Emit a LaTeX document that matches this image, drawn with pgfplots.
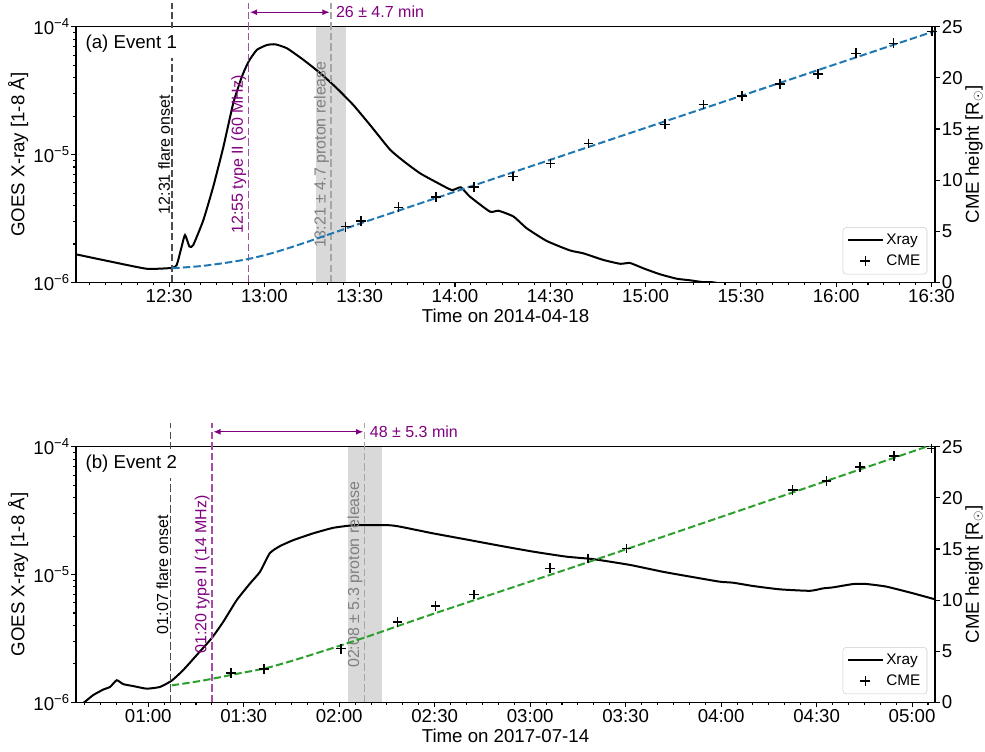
\documentclass[border=0pt]{standalone}
\usepackage{fontspec}
\setmainfont{Liberation Sans}
\usepackage{pgfplots}
\usepackage{pgfplotstable}
\pgfplotsset{compat=1.18}
\usetikzlibrary{arrows.meta,calc}

\definecolor{fitblue}{HTML}{1F77B4}
\definecolor{fitgreen}{HTML}{2CA02C}
\definecolor{mplpurple}{HTML}{800080}
\definecolor{purpleline}{HTML}{A64DA6}
\definecolor{onsetline}{HTML}{4D4D4D}
\definecolor{protonline}{HTML}{A6A6A6}
\definecolor{protontext}{HTML}{808080}
\definecolor{bandgray}{HTML}{D9D9D9}

\newcommand{\fs}[1]{\fontsize{#1}{1.2\dimexpr#1pt\relax}\selectfont}

% ---- event 1 (minutes after 12:00 on 2014-04-18) ----
\pgfplotstableread{
t flux
0.7 1.66e-6
11.4 1.46e-6
23.0 1.28e-6
30.9 1.30e-6
32.4 1.37e-6
33.7 1.80e-6
35.0 2.35e-6
36.4 1.91e-6
37.6 1.96e-6
40.8 3.08e-6
43.9 5.61e-6
47.1 1.15e-5
50.2 2.52e-5
52.9 4.06e-5
55.0 5.32e-5
57.6 6.58e-5
60.8 7.19e-5
63.4 7.28e-5
67.1 6.78e-5
72.3 5.50e-5
77.6 4.33e-5
82.8 3.30e-5
88.0 2.44e-5
93.3 1.70e-5
99.6 1.09e-5
104.3 8.7e-6
109.0 7.14e-6
114.0 6.1e-6
119.0 5.28e-6
121.8 5.55e-6
124.7 4.69e-6
131.0 3.58e-6
133.7 3.64e-6
138.4 3.28e-6
142.6 2.65e-6
148.9 2.11e-6
156.2 1.78e-6
160.4 1.69e-6
166.7 1.50e-6
172.0 1.40e-6
175.1 1.42e-6
179.3 1.29e-6
184.5 1.16e-6
189.8 1.07e-6
194.0 1.04e-6
198.2 1.005e-6
202.2 0.995e-6
216.0 0.79e-6
}\xrayA

\pgfplotstableread{
t h
85.6 5.45
90.4 6.01
102.2 7.35
114.0 8.36
126.0 9.33
138.2 10.34
150.1 11.62
162.0 13.60
186.1 15.46
198.2 17.41
210.3 18.23
222.3 19.40
234.2 20.38
246.2 22.40
258.0 23.38
270.1 24.51
}\cmeA

\pgfplotstableread{
t h
31 1.39
40 1.60
48 1.93
55 2.30
62 2.83
70 3.60
78 4.45
85 5.20
90 5.75
100 6.79
130 9.91
160 13.03
200 17.19
240 21.35
271 24.57
}\fitA

% ---- event 2 (minutes after 00:00 on 2017-07-14) ----
\pgfplotstableread{
t flux
37.3 0.90e-6
40.1 1.01e-6
42.7 1.14e-6
45.9 1.26e-6
48.0 1.32e-6
50.1 1.49e-6
52.1 1.39e-6
55.3 1.34e-6
59.5 1.28e-6
63.7 1.32e-6
67.4 1.48e-6
71.0 1.79e-6
75.2 2.34e-6
79.9 3.17e-6
83.6 4.28e-6
87.8 6.31e-6
92.0 8.53e-6
95.1 1.05e-5
98.2 1.47e-5
101.4 1.67e-5
105.6 1.86e-5
111.8 2.10e-5
118.1 2.32e-5
124.4 2.43e-5
130.7 2.44e-5
135.9 2.43e-5
139.1 2.37e-5
149.5 2.10e-5
160.0 1.88e-5
170.5 1.68e-5
181.0 1.51e-5
191.4 1.38e-5
199.8 1.32e-5
211.3 1.19e-5
221.8 1.05e-5
232.3 9.44e-6
239.6 8.79e-6
243.8 8.63e-6
250.1 8.13e-6
258.5 7.66e-6
267.9 7.46e-6
272.1 7.80e-6
275.2 7.94e-6
281.5 8.43e-6
285.7 8.43e-6
292.0 8.04e-6
300.3 7.13e-6
307.2 6.40e-6
}\xrayB

\pgfplotstableread{
t h
86.0 2.87
96.4 3.28
120.5 5.24
138.3 7.88
150.3 9.42
162.3 10.56
186.2 13.11
198.2 14.08
210.3 15.06
262.5 20.77
273.1 21.64
283.6 23.04
294.3 24.09
306.1 24.84
}\cmeB

\pgfplotstableread{
t h
67.4 1.66
75 2.02
80.4 2.32
88 2.80
96.4 3.30
104 3.95
112 4.72
120.5 5.57
130 6.55
150 8.70
200 13.90
250 19.20
304.5 25.00
307.2 25.29
}\fitB

\tikzset{
  vline/.style={line width=1.2pt, dash pattern=on 5.5pt off 2.4pt},
  rotlab/.style={rotate=90, anchor=south, font=\fs{12}, inner sep=1.5pt},
  spanarrow/.style={mplpurple, line width=1pt,
    {Latex[length=5.5pt,width=4.5pt]}-{Latex[length=5.5pt,width=4.5pt]},
    shorten <=1pt, shorten >=1pt},
}

\pgfplotsset{
  every axis/.append style={
    scale only axis, width=644.25pt, anchor=south west,
    tick align=outside,
    major tick length=3.5pt, minor tick length=2pt,
    every tick/.append style={black, line width=0.8pt},
    axis line style={line width=0.8pt},
    tick label style={font=\fs{14}},
    label style={font=\fs{14}},
  },
}

\begin{document}
\begin{tikzpicture}
\useasboundingbox (0,0) rectangle (738.75pt,563.25pt);

% ================= panel (a) =================
\begin{axis}[at={(57pt,351.4pt)}, height=191.85pt,
  xmin=0.7, xmax=271.1,
  ymode=log, ymin=1e-6, ymax=1e-4,
  ytick={1e-6,1e-5,1e-4},
  yticklabels={10\textsuperscript{−6},10\textsuperscript{−5},10\textsuperscript{−4}},
  minor ytick={2e-6,3e-6,4e-6,5e-6,6e-6,7e-6,8e-6,9e-6,2e-5,3e-5,4e-5,5e-5,6e-5,7e-5,8e-5,9e-5},
  xtick pos=left, ytick pos=left,
  xticklabel style={inner sep=0pt, yshift=-1.6pt},
  yticklabel style={inner sep=0pt, xshift=-1pt},
  ylabel={GOES X-ray [1-8 Å]},
  ylabel style={at={(axis description cs:-0.0672,0.5)}, rotate=0, anchor=center},
  xlabel style={at={(axis description cs:0.5,-0.1303)}, anchor=center},
  xtick={30,60,...,270},
  xticklabels={12:30,13:00,13:30,14:00,14:30,15:00,15:30,16:00,16:30},
  minor xtick={5,10,...,270},
  xlabel={Time on 2014-04-18}]
  \fill[bandgray] (axis cs:76.3,1e-6) rectangle (axis cs:85.7,1e-4);
  \addplot[black, line width=1.5pt, smooth, tension=0.3] table[x=t,y=flux] {\xrayA};
  \coordinate (aF) at (axis cs:31,1e-6);
  \coordinate (aT) at (axis cs:55,1e-6);
  \coordinate (aP) at (axis cs:81,1e-6);
  \coordinate (aTop) at (rel axis cs:0,1);
  \coordinate (aMid) at (rel axis cs:0,0.5);
\end{axis}

\draw[vline, onsetline] (aF) -- ($(aF |- aTop)+(0,17.5pt)$);
\draw[vline, purpleline] (aT) -- ($(aT |- aTop)+(0,17.5pt)$);
\draw[vline, protonline] (aP) -- ($(aP |- aTop)+(0,17.5pt)$);
\node[rotlab] at (aF |- aMid) {12:31 flare onset};
\node[rotlab, text=mplpurple] at (aT |- aMid) {12:55 type II (60 MHz)};
\node[rotlab, text=protontext] at (aP |- aMid) {13:21 ± 4.7 proton release};
\draw[spanarrow] ($(aT |- aTop)+(0,10.8pt)$) -- ($(aP |- aTop)+(0,10.8pt)$);
\node[anchor=west, inner sep=0pt, font=\fs{12}, text=mplpurple] at ($(aP |- aTop)+(3.5pt,10.8pt)$) {26 ± 4.7 min};
\node[anchor=west, fill=white, inner sep=4.5pt, font=\fs{14}] at ($(aTop)+(2.5pt,-12.4pt)$) {(a) Event 1};

\begin{axis}[at={(57pt,351.4pt)}, height=191.85pt,
  xmin=0.7, xmax=271.1,
  ymin=0, ymax=25,
  axis x line=none, axis y line*=right,
  ytick={0,5,10,15,20,25}, yticklabels={0,5,10,15,20,25},
  yticklabel style={inner sep=0pt, xshift=1.5pt},
  ylabel={CME height [R\textsubscript{$\odot$}]},
  ylabel style={at={(axis description cs:1.0455,0.5)}, rotate=0, anchor=center},
  legend style={at={(1,0)}, anchor=south east, xshift=-5.8pt, yshift=6.1pt,
    font=\fs{11.5}, draw=black!20, rounded corners=2.5pt, fill=white,
    inner sep=3pt, row sep=2pt},
  legend cell align=left,
  legend image code/.code={\draw[mark repeat=2,mark phase=2,#1]
    plot coordinates {(0pt,0pt) (13pt,0pt) (26pt,0pt)};}]
  \addlegendimage{black, line width=1.5pt}
  \addlegendentry{Xray}
  \addplot[fitblue, line width=1.5pt, dash pattern=on 5.55pt off 2.4pt, smooth, forget plot] table[x=t,y=h] {\fitA};
  \addplot[only marks, mark=+, mark size=3.6pt, mark options={black, line width=1.1pt}] table[x=t,y=h] {\cmeA};
  \addlegendentry{CME}
\end{axis}

% ================= panel (b) =================
\begin{axis}[at={(57pt,36.5pt)}, height=191.7pt,
  xmin=37.3, xmax=307.2,
  ymode=log, ymin=1e-6, ymax=1e-4,
  ytick={1e-6,1e-5,1e-4},
  yticklabels={10\textsuperscript{−6},10\textsuperscript{−5},10\textsuperscript{−4}},
  minor ytick={2e-6,3e-6,4e-6,5e-6,6e-6,7e-6,8e-6,9e-6,2e-5,3e-5,4e-5,5e-5,6e-5,7e-5,8e-5,9e-5},
  xtick pos=left, ytick pos=left,
  xticklabel style={inner sep=0pt, yshift=-1.6pt},
  yticklabel style={inner sep=0pt, xshift=-1pt},
  ylabel={GOES X-ray [1-8 Å]},
  ylabel style={at={(axis description cs:-0.0672,0.5)}, rotate=0, anchor=center},
  xlabel style={at={(axis description cs:0.5,-0.1303)}, anchor=center},
  xtick={60,90,...,300},
  xticklabels={01:00,01:30,02:00,02:30,03:00,03:30,04:00,04:30,05:00},
  minor xtick={40,45,...,305},
  xlabel={Time on 2017-07-14}]
  \fill[bandgray] (axis cs:122.7,1e-6) rectangle (axis cs:133.3,1e-4);
  \addplot[black, line width=1.5pt, smooth, tension=0.3] table[x=t,y=flux] {\xrayB};
  \coordinate (bF) at (axis cs:67,1e-6);
  \coordinate (bT) at (axis cs:80,1e-6);
  \coordinate (bP) at (axis cs:128,1e-6);
  \coordinate (bTop) at (rel axis cs:0,1);
  \coordinate (bMid) at (rel axis cs:0,0.5);
\end{axis}

\draw[vline, onsetline] (bF) -- ($(bF |- bTop)+(0,17.5pt)$);
\draw[vline, purpleline] (bT) -- ($(bT |- bTop)+(0,17.5pt)$);
\draw[vline, protonline] (bP) -- ($(bP |- bTop)+(0,17.5pt)$);
\node[rotlab] at (bF |- bMid) {01:07 flare onset};
\node[rotlab, text=mplpurple] at (bT |- bMid) {01:20 type II (14 MHz)};
\node[rotlab, text=protontext] at (bP |- bMid) {02:08 ± 5.3 proton release};
\draw[spanarrow] ($(bT |- bTop)+(0,11.2pt)$) -- ($(bP |- bTop)+(0,11.2pt)$);
\node[anchor=west, inner sep=0pt, font=\fs{12}, text=mplpurple] at ($(bP |- bTop)+(3.7pt,11.2pt)$) {48 ± 5.3 min};
\node[anchor=west, fill=white, inner sep=4.5pt, font=\fs{14}] at ($(bTop)+(2.5pt,-12.4pt)$) {(b) Event 2};

\begin{axis}[at={(57pt,36.5pt)}, height=191.7pt,
  xmin=37.3, xmax=307.2,
  ymin=0, ymax=25,
  axis x line=none, axis y line*=right,
  ytick={0,5,10,15,20,25}, yticklabels={0,5,10,15,20,25},
  yticklabel style={inner sep=0pt, xshift=1.5pt},
  ylabel={CME height [R\textsubscript{$\odot$}]},
  ylabel style={at={(axis description cs:1.0455,0.5)}, rotate=0, anchor=center},
  legend style={at={(1,0)}, anchor=south east, xshift=-5.8pt, yshift=6.1pt,
    font=\fs{11.5}, draw=black!20, rounded corners=2.5pt, fill=white,
    inner sep=3pt, row sep=2pt},
  legend cell align=left,
  legend image code/.code={\draw[mark repeat=2,mark phase=2,#1]
    plot coordinates {(0pt,0pt) (13pt,0pt) (26pt,0pt)};}]
  \addlegendimage{black, line width=1.5pt}
  \addlegendentry{Xray}
  \addplot[fitgreen, line width=1.5pt, dash pattern=on 5.55pt off 2.4pt, smooth, forget plot] table[x=t,y=h] {\fitB};
  \addplot[only marks, mark=+, mark size=3.6pt, mark options={black, line width=1.1pt}] table[x=t,y=h] {\cmeB};
  \addlegendentry{CME}
\end{axis}
\end{tikzpicture}
\end{document}
